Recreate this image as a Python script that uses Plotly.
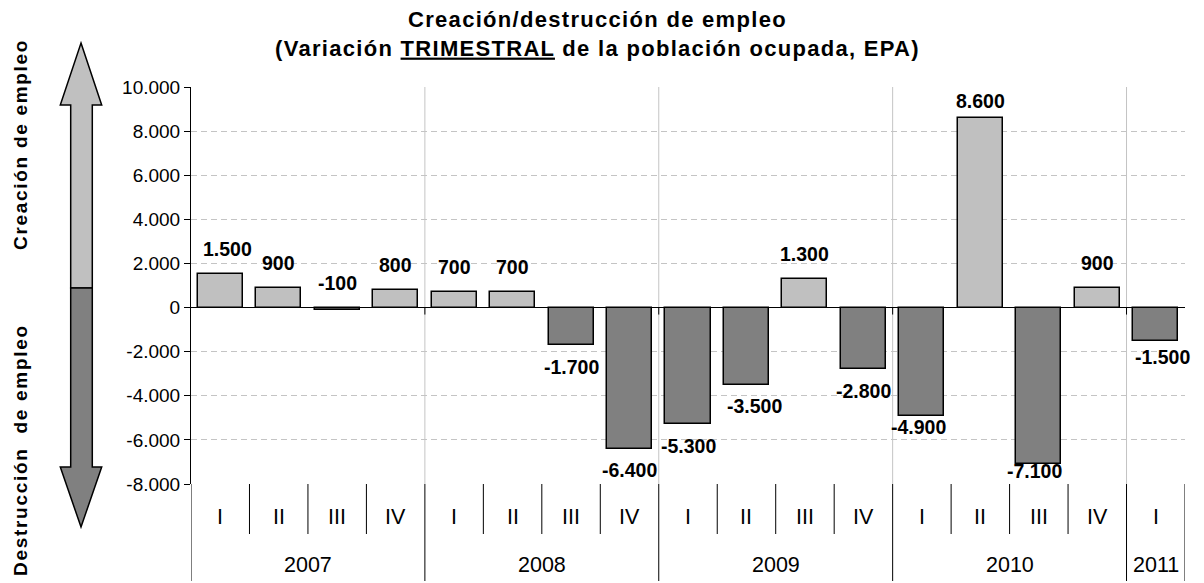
import plotly.graph_objects as go

# ---------------- data ----------------
quarters = ["I", "II", "III", "IV", "I", "II", "III", "IV", "I", "II", "III", "IV",
            "I", "II", "III", "IV", "I"]
years = ["2007", "2007", "2007", "2007", "2008", "2008", "2008", "2008",
         "2009", "2009", "2009", "2009", "2010", "2010", "2010", "2010", "2011"]
values = [1500, 900, -100, 800, 700, 700, -1700, -6400, -5300, -3500, 1300,
          -2800, -4900, 8600, -7100, 900, -1500]
y_ticks = [-8000, -6000, -4000, -2000, 0, 2000, 4000, 6000, 8000, 10000]

title_line1 = "Creación/destrucción de empleo"
title_line2 = "(Variación <u>TRIMESTRAL</u> de la población ocupada, EPA)"
side_up = "Creación de empleo"
side_down = "Destrucción\u00a0 de empleo"

# ---------------- style ----------------
OFF = 8                      # page body margin of the html page
W, H = 1204 - OFF, 583 - OFF
PLOT_L, PLOT_R, PLOT_T, PLOT_B = 191, 1185, 87, 484   # window pixels
ML, MT = PLOT_L - OFF, PLOT_T - OFF
MR, MB = W - (PLOT_R - OFF), H - (PLOT_B - OFF)
PW, PH = W - ML - MR, H - MT - MB
FONT = "Liberation Sans, Arial, sans-serif"
LIGHT, DARK = "#C0C0C0", "#808080"
GRID = "#C4C4C4"

# label nudges (dx px, dy px) – style only
label_nudge = {0: (7, 0), 9: (8, 0), 12: (-3, 10), 13: (0, -8), 14: (-4, 14.5),
               16: (7, 5.5)}


def fmt(v):
    return f"{v:,}".replace(",", ".")


def paper(xp, yp):
    """window pixel -> paper coordinates"""
    return (xp - PLOT_L) / PW, (PLOT_B - yp) / PH


xs = list(range(len(values)))

fig = go.Figure()
fig.add_trace(go.Bar(
    x=xs, y=values, width=0.77,
    marker=dict(color=[LIGHT if v >= 0 else DARK for v in values],
                line=dict(color="#000000", width=1.5)),
    hoverinfo="skip", showlegend=False,
))

annotations = []
shapes = []

# bar value labels
for i, v in enumerate(values):
    dx, dy = label_nudge.get(i, (0, 0))
    if v >= 0 or abs(v) < 200:
        yv = max(v, 0)
        ys = 25 + dy
    else:
        yv = v
        ys = -21.5 + dy
    annotations.append(dict(
        x=i, y=yv, xref="x", yref="y", text=fmt(v), showarrow=False,
        xanchor="center", yanchor="middle", xshift=dx, yshift=ys,
        font=dict(family=FONT, size=19.5, color="#000", weight="bold")))

# quarter labels
for i, q in enumerate(quarters):
    annotations.append(dict(
        x=i, y=0, xref="x", yref="paper", text=q, showarrow=False,
        xanchor="center", yanchor="middle", yshift=-33,
        font=dict(family=FONT, size=21.5, color="#000")))

# year labels
seen = []
for yr in years:
    if yr not in seen:
        seen.append(yr)
for yr in seen:
    idx = [i for i, y in enumerate(years) if y == yr]
    annotations.append(dict(
        x=sum(idx) / len(idx), y=0, xref="x", yref="paper", text=yr,
        showarrow=False, xanchor="center", yanchor="middle", yshift=-81,
        font=dict(family=FONT, size=21.5, color="#000")))

# separators in the category area + year gridlines
n = len(values)
for b in range(n + 1):
    xb = b - 0.5
    edge = b == 0 or b == n
    year_break = edge or years[b - 1] != years[b]
    shapes.append(dict(
        type="line", xref="x", yref="paper", ysizemode="pixel", yanchor=0,
        x0=xb, x1=xb, y0=0, y1=-97 if year_break else -50,
        line=dict(color="#000000", width=1)))
    if year_break and not edge:
        shapes.append(dict(
            type="line", xref="x", yref="paper", x0=xb, x1=xb, y0=0, y1=1,
            layer="below", line=dict(color=GRID, width=1)))
        shapes.append(dict(
            type="line", xref="x", yref="y", ysizemode="pixel", yanchor=0,
            x0=xb, x1=xb, y0=0, y1=-7, line=dict(color="#000000", width=1)))


# left double arrow (decoration)
def path(points):
    pts = [paper(*p) for p in points]
    return "M " + " L ".join(f"{x:.5f},{y:.5f}" for x, y in pts) + " Z"


up_pts = [(81, 43), (101.7, 105), (92.3, 105), (92.3, 288), (70.7, 288),
          (70.7, 105), (60.3, 105)]
down_pts = [(70.7, 288), (92.3, 288), (92.3, 467), (101.7, 467), (81, 527),
            (60.3, 467), (70.7, 467)]
shapes.append(dict(type="path", xref="paper", yref="paper", path=path(up_pts),
                   fillcolor=LIGHT, line=dict(color="#000", width=1.5)))
shapes.append(dict(type="path", xref="paper", yref="paper", path=path(down_pts),
                   fillcolor=DARK, line=dict(color="#000", width=1.5)))

# side texts
for txt, yp in [(side_up, 145), (side_down, 450)]:
    xpp, ypp = paper(20, yp)
    annotations.append(dict(
        x=xpp, y=ypp, xref="paper", yref="paper", showarrow=False,
        text=f'<span style="letter-spacing:1.7px">{txt}</span>',
        textangle=-90, xanchor="center", yanchor="middle",
        font=dict(family=FONT, size=19, color="#000", weight="bold")))

# title
tx, ty = paper(597, 34)
annotations.append(dict(
    x=tx, y=ty, xref="paper", yref="paper", showarrow=False,
    xanchor="center", yanchor="middle", align="center",
    text=(f'<span style="letter-spacing:1.3px">{title_line1}</span><br>'
          f'<span style="letter-spacing:1.3px">{title_line2}</span>'),
    font=dict(family=FONT, size=22, color="#000", weight="bold")))

fig.update_layout(
    width=W, height=H, autosize=False,
    margin=dict(l=ML, r=MR, t=MT, b=MB, pad=0),
    paper_bgcolor="white", plot_bgcolor="white",
    showlegend=False, bargap=0,
    font=dict(family=FONT, color="#000"),
    annotations=annotations, shapes=shapes,
    xaxis=dict(range=[-0.5, n - 0.5], showticklabels=False, showgrid=False,
               zeroline=False, showline=False, ticks="", fixedrange=True),
    yaxis=dict(range=[y_ticks[0], y_ticks[-1]], tickvals=y_ticks,
               ticktext=[fmt(t) for t in y_ticks],
               tickfont=dict(family=FONT, size=19, color="#000"),
               showgrid=True, gridcolor=GRID, gridwidth=1, griddash="6px,4px",
               zeroline=True, zerolinecolor="#000", zerolinewidth=1,
               showline=True, linecolor="#000", linewidth=1,
               ticks="outside", ticklen=6, tickcolor="#000", tickwidth=1,
               fixedrange=True),
)

fig.write_html("out.html")
